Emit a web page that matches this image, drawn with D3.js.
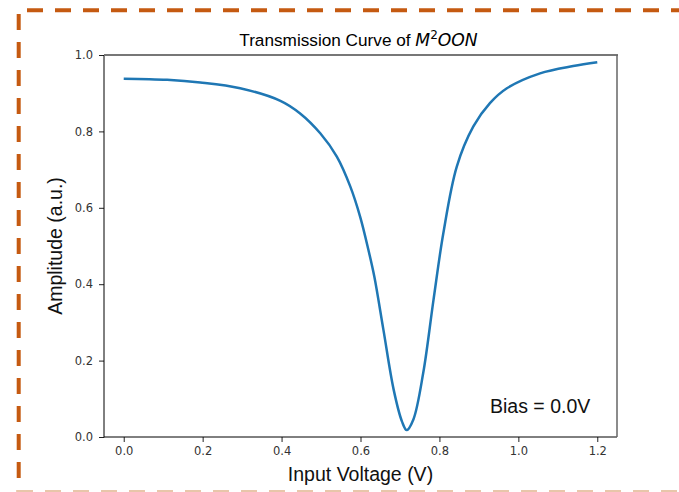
<!DOCTYPE html>
<html>
<head>
<meta charset="utf-8">
<script src="https://cdn.jsdelivr.net/npm/d3@7"></script>
<style>
  body { margin: 0; background: #fff; }
  svg { display: block; }
</style>
</head>
<body>
<div class="vis-chart"></div>
<script>
// values
const voltage = [0.00, 0.11, 0.194, 0.295, 0.397, 0.447, 0.498, 0.540, 0.574, 0.599, 0.620, 0.635,
  0.658, 0.684, 0.705, 0.717, 0.734, 0.759, 0.785, 0.810, 0.844, 0.886, 0.928, 0.971, 1.055, 1.139, 1.2];
const amplitude = [0.938, 0.935, 0.928, 0.913, 0.880, 0.847, 0.795, 0.734, 0.656, 0.577, 0.490, 0.420,
  0.281, 0.124, 0.041, 0.018, 0.046, 0.168, 0.359, 0.534, 0.708, 0.813, 0.874, 0.913, 0.952, 0.971, 0.981];
const xTicks = [0.0, 0.2, 0.4, 0.6, 0.8, 1.0, 1.2];
const yTicks = [0.0, 0.2, 0.4, 0.6, 0.8, 1.0];

const width = 679, height = 492;
const plot = { left: 104, right: 617, top: 55, bottom: 437 };

const svg = d3.select(".vis-chart")
  .append("svg")
  .attr("width", width)
  .attr("height", height);

svg.append("rect").attr("width", width).attr("height", height).attr("fill", "#fff");

// dashed frame round the figure
svg.append("line")
  .attr("x1", 27).attr("x2", width).attr("y1", 10.3).attr("y2", 10.3)
  .attr("stroke", "#c55a11").attr("stroke-width", 4)
  .attr("stroke-dasharray", "16,12");
svg.append("line")
  .attr("x1", 18.7).attr("x2", 18.7).attr("y1", 14).attr("y2", height)
  .attr("stroke", "#c55a11").attr("stroke-width", 4)
  .attr("stroke-dasharray", "16,12");
svg.append("line")
  .attr("x1", 17).attr("x2", width).attr("y1", 491).attr("y2", 491)
  .attr("stroke", "#e8c6aa").attr("stroke-width", 2)
  .attr("stroke-dasharray", "16,12");

const x = d3.scaleLinear().domain([-0.05, 1.25]).range([plot.left, plot.right]);
const y = d3.scaleLinear().domain([0, 1]).range([plot.bottom, plot.top]);

const data = voltage.map((v, i) => ({ v: v, a: amplitude[i] }));

// axes
const xAxis = svg.append("g")
  .attr("transform", "translate(0," + plot.bottom + ")")
  .call(d3.axisBottom(x).tickValues(xTicks).tickFormat(d3.format(".1f")).tickSizeOuter(0).tickSize(5).tickPadding(5));
const yAxis = svg.append("g")
  .attr("transform", "translate(" + plot.left + ",0)")
  .call(d3.axisLeft(y).tickValues(yTicks).tickFormat(d3.format(".1f")).tickSizeOuter(0).tickSize(5).tickPadding(6));

[xAxis, yAxis].forEach((g) => {
  g.select(".domain").remove();
  g.selectAll(".tick line").attr("stroke", "#222");
  g.selectAll(".tick text")
    .attr("fill", "#333")
    .style("font-family", "DejaVu Sans")
    .style("font-size", "11.5px");
});

// spines
svg.append("line").attr("x1", plot.left).attr("x2", plot.left).attr("y1", plot.top).attr("y2", plot.bottom + 0.5)
  .attr("stroke", "#000").attr("stroke-width", 1);
svg.append("line").attr("x1", plot.left).attr("x2", plot.right).attr("y1", plot.bottom).attr("y2", plot.bottom)
  .attr("stroke", "#000").attr("stroke-width", 1);
svg.append("line").attr("x1", plot.left).attr("x2", plot.right + 1).attr("y1", plot.top).attr("y2", plot.top)
  .attr("stroke", "#777").attr("stroke-width", 2);
svg.append("line").attr("x1", plot.right).attr("x2", plot.right).attr("y1", plot.top).attr("y2", plot.bottom)
  .attr("stroke", "#666").attr("stroke-width", 1.5);

// curve
const line = d3.line()
  .x((d) => x(d.v))
  .y((d) => y(d.a))
  .curve(d3.curveCatmullRom.alpha(0.5));

svg.append("path")
  .datum(data)
  .attr("d", line)
  .attr("fill", "none")
  .attr("stroke", "#1f77b4")
  .attr("stroke-width", 2.5);

// title
const title = svg.append("text")
  .attr("x", (plot.left + plot.right) / 2 - 2)
  .attr("y", 46)
  .attr("text-anchor", "middle")
  .style("font-family", "Liberation Sans, Arial, sans-serif")
  .style("font-size", "17.2px")
  .attr("fill", "#000");
title.append("tspan").text("Transmission Curve of ");
title.append("tspan").style("font-family", "DejaVu Sans").style("font-style", "italic").text("M");
title.append("tspan").style("font-family", "DejaVu Sans").style("font-size", "12px").attr("dy", -7).text("2");
title.append("tspan").style("font-family", "DejaVu Sans").style("font-style", "italic").attr("dy", 7).text("OON");

// axis labels
svg.append("text")
  .attr("x", (plot.left + plot.right) / 2)
  .attr("y", 481)
  .attr("text-anchor", "middle")
  .style("font-family", "Liberation Sans, Arial, sans-serif")
  .style("font-size", "19.5px")
  .attr("fill", "#111")
  .text("Input Voltage (V)");

svg.append("text")
  .attr("transform", "translate(62," + (plot.top + plot.bottom) / 2 + ") rotate(-90)")
  .attr("text-anchor", "middle")
  .style("font-family", "Liberation Sans, Arial, sans-serif")
  .style("font-size", "19.5px")
  .attr("fill", "#111")
  .text("Amplitude (a.u.)");

svg.append("text")
  .attr("x", 490)
  .attr("y", 413)
  .style("font-family", "Liberation Sans, Arial, sans-serif")
  .style("font-size", "19.5px")
  .attr("fill", "#111")
  .text("Bias = 0.0V");
</script>
</body>
</html>
